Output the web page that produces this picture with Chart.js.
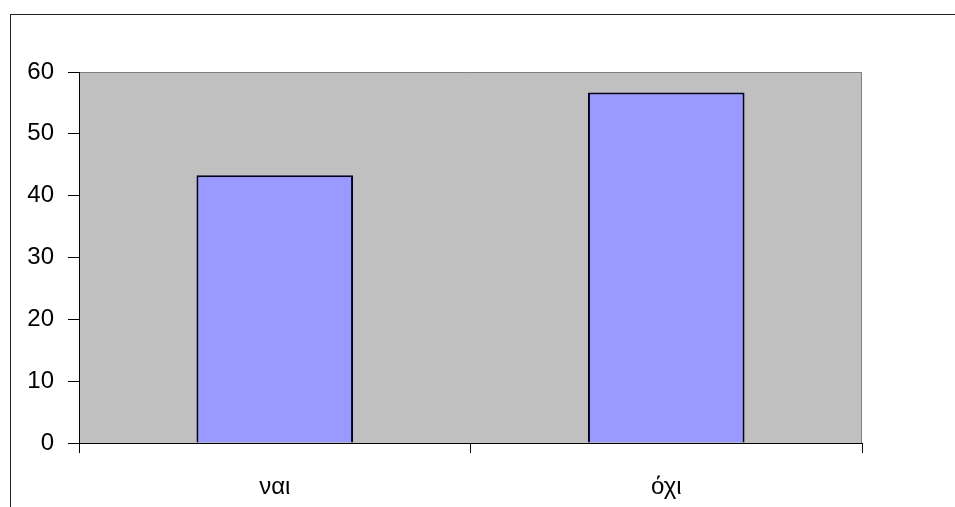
<!DOCTYPE html>
<html>
<head>
<meta charset="utf-8">
<script src="https://cdn.jsdelivr.net/npm/chart.js@4"></script>
<style>
body{margin:0;background:#fff}
#frame{position:absolute;left:10px;top:14px;width:960px;height:520px;border-left:1px solid #222;border-top:1px solid #222}
#wrap{position:absolute;left:0;top:0;width:955px;height:507px}
</style>
</head>
<body>
<div id="frame"></div>
<div id="wrap"><canvas id="myChart"></canvas></div>
<script>
var categories=['ναι','όχι']
var values=[43.3,56.7]
var yTicks=[0,10,20,30,40,50,60]

var plotBg={
    id:'plotBg',
    beforeDraw:function(chart){
        var c=chart.ctx,a=chart.chartArea
        c.save()
        c.fillStyle='#c0c0c0'
        c.fillRect(a.left,a.top,a.right-a.left,a.bottom-a.top)
        c.strokeStyle='#808080'
        c.lineWidth=1
        c.beginPath()
        c.moveTo(a.left,a.top+0.5)
        c.lineTo(a.right-0.5,a.top+0.5)
        c.lineTo(a.right-0.5,a.bottom)
        c.stroke()
        c.restore()
    }
}

var myChart=document.getElementById('myChart').getContext('2d')
var chart=new Chart(myChart,{
    type:'bar',
    data:{
        labels:categories,
        datasets:[{
            data:values,
            backgroundColor:'#9999ff',
            borderColor:'#000020',
            borderWidth:2,
            barPercentage:1,
            categoryPercentage:0.4
        }]
    },
    options:{
        responsive:true,
        maintainAspectRatio:false,
        animation:false,
        layout:{padding:{top:72,right:93,left:0,bottom:0}},
        plugins:{legend:{display:false},tooltip:{enabled:false}},
        scales:{
            x:{
                afterFit:function(s){s.height=64},
                grid:{drawOnChartArea:false,color:'#000',tickLength:10},
                border:{color:'#000'},
                ticks:{color:'#000',padding:20,font:{family:'Liberation Sans',size:24}}
            },
            y:{
                min:0,max:60,
                afterFit:function(s){s.width=79},
                afterBuildTicks:function(s){s.ticks=yTicks.map(function(v){return {value:v}})},
                grid:{drawOnChartArea:false,color:'#000',tickLength:11},
                border:{color:'#000'},
                ticks:{color:'#000',padding:14,font:{family:'Liberation Sans',size:24}}
            }
        }
    },
    plugins:[plotBg]
})
</script>
</body>
</html>
